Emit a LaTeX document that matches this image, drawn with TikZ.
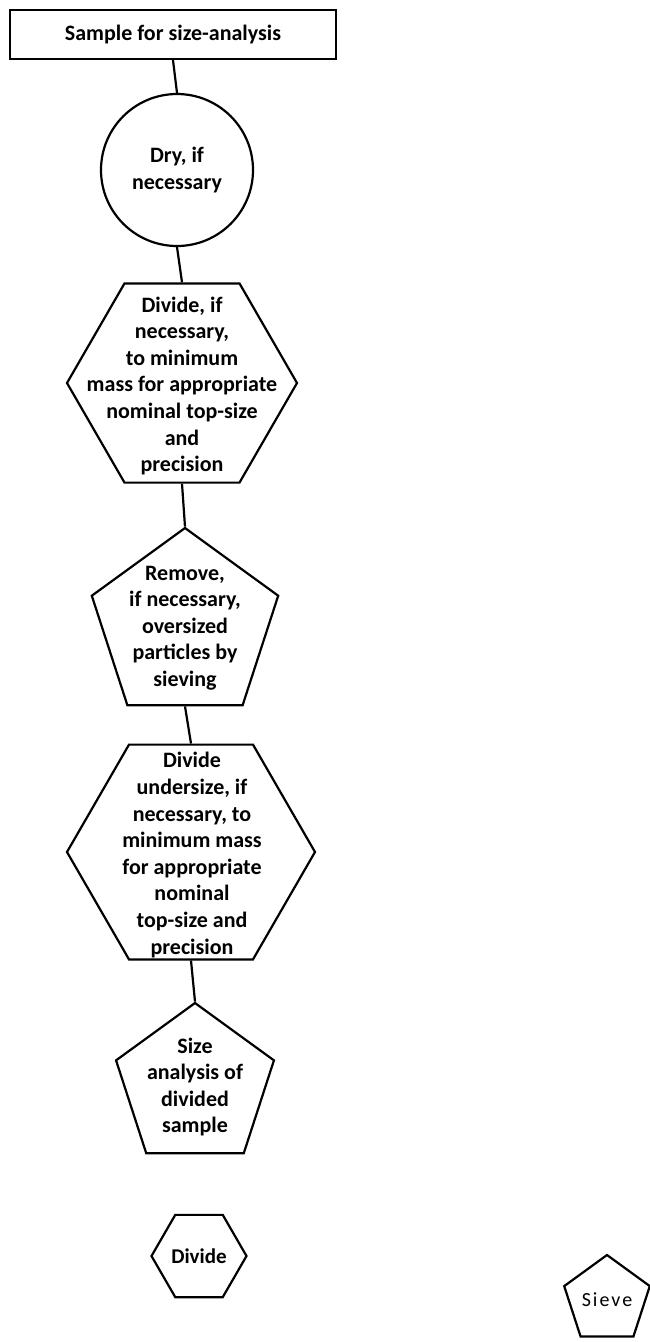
\documentclass[tikz,border=0pt]{standalone}
\usepackage{fontspec}
\setmainfont{Carlito}
\usetikzlibrary{shapes.geometric}
\begin{document}
\begin{tikzpicture}[x=1pt,y=-1pt,
  box/.style={draw, line width=2.2pt, inner sep=0pt},
  hexa/.style={box, regular polygon, regular polygon sides=6},
  penta/.style={box, regular polygon, regular polygon sides=5},
  txt/.style={align=center, font=\fontsize{22}{26.6}\selectfont\bfseries, inner sep=0pt},
  conn/.style={line width=2.2pt}]
\useasboundingbox (0,0) rectangle (649,1342);
% shapes
\node[box, minimum width=326pt, minimum height=49pt] (s) at (173,34.5) {};
\node[txt] (st) at (s) {Sample for size-analysis};
\node[box, circle, minimum size=152pt] (c) at (177,170) {};
\node[txt] (ct) at (c) {Dry, if\\necessary};
\node[hexa, minimum size=230pt] (h1) at (182,383) {};
\node[txt] (h1t) at (182,386) {Divide, if\\necessary,\\to minimum\\mass for appropriate\\nominal top-size\\and\\precision};
\node[penta, minimum size=196pt] (p1) at (185,626) {};
\node[txt] (p1t) at (185,628) {Remove,\\if necessary,\\oversized\\particles by\\sieving};
\node[hexa, minimum size=248pt] (h2) at (191,852) {};
\node[txt] (h2t) at (192,855) {Divide\\undersize, if\\necessary, to\\minimum mass\\for appropriate\\nominal\\top-size and\\precision};
\node[penta, minimum size=166pt] (p2) at (195,1086) {};
\node[txt] (p2t) at (195,1087) {Size\\analysis of\\divided\\sample};
\node[hexa, minimum size=95pt] (d) at (199,1256) {};
\node[txt, font=\fontsize{21}{26}\selectfont\bfseries] (dt) at (d) {Divide};
\node[penta, minimum size=90pt] (sv) at (607,1300) {};
\node[txt, font=\fontsize{20}{26}\selectfont] (svt) at (sv) {\addfontfeature{LetterSpace=10}Sieve};
% connectors
\draw[conn] (s.south) -- (c.north);
\draw[conn] (c.south) -- (h1.north);
\draw[conn] (h1.south) -- (p1.north);
\draw[conn] (p1.south) -- (h2.north);
\draw[conn] (h2.south) -- (p2.north);
\end{tikzpicture}
\end{document}
